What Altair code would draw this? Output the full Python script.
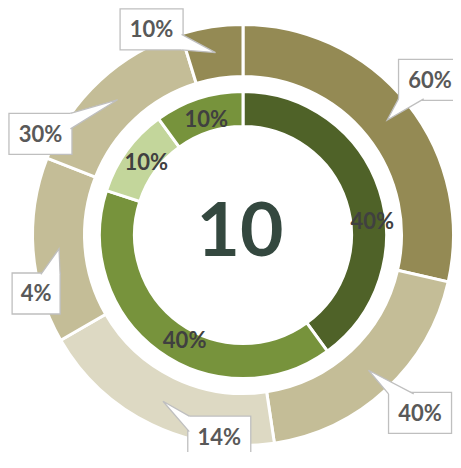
import math
import altair as alt
import pandas as pd

# ---- data ----
outer_values = [60, 40, 40, 30, 30, 10]
outer_labels = ["60%", "40%", "14%", "4%", "30%", "10%"]
inner_values = [40, 40, 10, 10]
inner_labels = ["40%", "40%", "10%", "10%"]
center_label = "10"

# ---- styles / layout ----
outer_colors = ["#948A54", "#C4BD97", "#DDD9C3", "#C4BD97", "#C4BD97", "#948A54"]
inner_colors = ["#4F6228", "#77933C", "#C3D69B", "#77933C"]

W, H = 445, 444
CX, CY = 235, 227
R_OUT, R_OUT2 = 210.5, 158.5
R_IN, R_IN2 = 143.5, 108.5
FONT = "Lato"

# callout placement (angle nudge in degrees from slice middle, distance of box centre)
callout_nudge = [-1.1, -2.0, -19, -11.5, -20.6, -15.4]
callout_dist = [243, 251, 203, 215, 226.4, 225]
# inner label placement
inner_nudge = [11.8, -6.9, 0.9, 0.5]
inner_dist = [130, 120, 121, 122]


def mids(values):
    total = sum(values)
    out, acc = [], 0.0
    for v in values:
        out.append((acc + v / 2) / total * 360.0)
        acc += v
    return out


def polar(angle_deg, r):
    a = math.radians(angle_deg)
    return CX + r * math.sin(a), CY - r * math.cos(a)


outer_df = pd.DataFrame({"idx": range(len(outer_values)), "value": outer_values,
                         "color": outer_colors})
inner_df = pd.DataFrame({"idx": range(len(inner_values)), "value": inner_values,
                         "color": inner_colors})

# callout geometry
boxes, wedges, otexts = [], [], []
ring_mid = (R_OUT + R_OUT2) / 2
for i, (m, lab) in enumerate(zip(mids(outer_values), outer_labels)):
    tx, ty = polar(m, ring_mid)
    bx, by = polar(m + callout_nudge[i], callout_dist[i])
    w = 15 * len(lab) + 18
    h = 41
    x0, x1, y0, y1 = bx - w / 2, bx + w / 2, by - h / 2, by + h / 2
    boxes.append({"x0": x0, "x1": x1, "y0": y0, "y1": y1})
    otexts.append({"tx": bx, "ty": by + 8, "label": lab})
    dx, dy = tx - bx, ty - by
    if abs(dx) / (w / 2) > abs(dy) / (h / 2):
        sx = x1 - 1.5 if dx > 0 else x0 + 1.5
        L = 0.38 * h
        p = min(max(ty, y0), y1)
        a = min(max(p - L / 2, y0), y1 - L)
        pts = [(sx, a), (tx, ty), (sx, a + L)]
    else:
        sy = y1 - 1.5 if dy > 0 else y0 + 1.5
        L = 0.4 * w
        p = min(max(tx, x0), x1)
        a = min(max(p - L / 2, x0), x1 - L)
        pts = [(a, sy), (tx, ty), (a + L, sy)]
    for k, (px, py) in enumerate(pts):
        wedges.append({"id": i, "k": k, "px": px, "py": py})

box_df = pd.DataFrame(boxes)
wedge_df = pd.DataFrame(wedges)
otext_df = pd.DataFrame(otexts)

itexts = []
for i, (m, lab) in enumerate(zip(mids(inner_values), inner_labels)):
    x, y = polar(m + inner_nudge[i], inner_dist[i])
    itexts.append({"tx": x, "ty": y + 8, "label": lab})
itext_df = pd.DataFrame(itexts)

center_df = pd.DataFrame({"tx": [CX - 3], "ty": [CY + 21], "label": [center_label]})

XS = dict(scale=None, axis=None)

outer = alt.Chart(outer_df).mark_arc(radius=R_OUT, radius2=R_OUT2, stroke="white",
                                     strokeWidth=3).encode(
    theta=alt.Theta("value:Q", stack=True),
    order=alt.Order("idx:Q"),
    color=alt.Color("color:N", scale=None),
    x=alt.value(CX), y=alt.value(CY),
)
inner = alt.Chart(inner_df).mark_arc(radius=R_IN, radius2=R_IN2, stroke="white",
                                     strokeWidth=3).encode(
    theta=alt.Theta("value:Q", stack=True),
    order=alt.Order("idx:Q"),
    color=alt.Color("color:N", scale=None),
    x=alt.value(CX), y=alt.value(CY),
)

rects = alt.Chart(box_df).mark_rect(fill="white", stroke="#BFBFBF", strokeWidth=1.3).encode(
    x=alt.X("x0:Q", **XS), x2="x1:Q",
    y=alt.Y("y0:Q", **XS), y2="y1:Q",
)
wedge = alt.Chart(wedge_df).mark_line(fill="white", stroke="#BFBFBF", strokeWidth=1.3).encode(
    x=alt.X("px:Q", **XS), y=alt.Y("py:Q", **XS),
    detail="id:N", order="k:Q",
)
otext = alt.Chart(otext_df).mark_text(font=FONT, fontWeight="bold", fontSize=22,
                                      color="#595959", align="center",
                                      baseline="alphabetic").encode(
    x=alt.X("tx:Q", **XS), y=alt.Y("ty:Q", **XS), text="label:N")
itext = alt.Chart(itext_df).mark_text(font=FONT, fontWeight="bold", fontSize=22,
                                      color="#404040", align="center",
                                      baseline="alphabetic").encode(
    x=alt.X("tx:Q", **XS), y=alt.Y("ty:Q", **XS), text="label:N")
ctext = alt.Chart(center_df).mark_text(font=FONT, fontWeight="bold", fontSize=75,
                                       color="#34483F", align="center",
                                       baseline="alphabetic").encode(
    x=alt.X("tx:Q", **XS), y=alt.Y("ty:Q", **XS), text="label:N")

chart = alt.layer(outer, inner, rects, wedge, otext, itext, ctext).resolve_scale(
    theta="independent"
).properties(
    width=W, height=H, padding=0, autosize=alt.AutoSizeParams(type="none")
).configure_view(stroke=None)

chart.save("out.html", embed_options={"renderer": "svg", "actions": False})
